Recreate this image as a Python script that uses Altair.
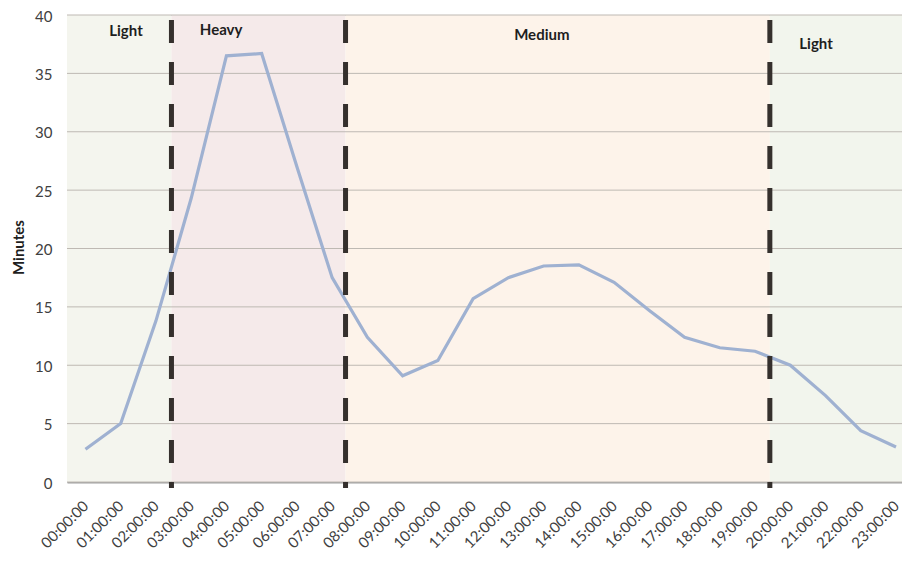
import altair as alt
import pandas as pd

# ---- data ----
hours = list(range(24))
minutes = [2.8, 5.0, 13.8, 24.3, 36.5, 36.7, 27.0, 17.5, 12.4, 9.1, 10.4, 15.7,
           17.5, 18.5, 18.6, 17.1, 14.7, 12.4, 11.5, 11.2, 10.0, 7.4, 4.4, 3.0]

x_domain = [-0.524, 23.17]         # visible hour range of the plot area
boundaries = [2.44, 7.38, 19.42]   # dashed separators (hours)
zone_names = ["Light", "Heavy", "Medium", "Light"]
zone_colors = ["#F4F5EE", "#F5EAEA", "#FDF3EA", "#F2F5ED"]
label_hours = [1.15, 3.85, 12.95, 20.73]
label_minutes = [38.6, 38.7, 38.3, 37.5]
y_ticks = [0, 5, 10, 15, 20, 25, 30, 35, 40]

W, H = 835, 467

df = pd.DataFrame({"hour": hours, "minutes": minutes})
edges = [x_domain[0]] + boundaries + [x_domain[1]]
zones = pd.DataFrame({
    "start": edges[:-1],
    "end": edges[1:],
    "lo": [0] * 4,
    "hi": [40] * 4,
    "color": zone_colors,
})
labels = pd.DataFrame({"name": zone_names, "hour": label_hours, "minutes": label_minutes})
grid = pd.DataFrame({"v": y_ticks})
seps = pd.DataFrame({"b": boundaries})

xscale = alt.Scale(domain=x_domain, nice=False, zero=False)
yscale = alt.Scale(domain=[0, 40], nice=False, zero=True)

x_axis = alt.Axis(
    values=hours,
    labelExpr="(datum.value < 10 ? '0' : '') + datum.value + ':00:00'",
    labelAngle=315, labelAlign="right", labelBaseline="middle",
    labelPadding=21, labelOffset=0, labelOverlap=False, labelFlush=False,
    labelFont="Lato", labelFontSize=15, labelColor="#404040",
    ticks=False, tickSize=0, grid=False, title=None,
    domainColor="#9E9E9E", domainWidth=2)
y_axis = alt.Axis(
    values=y_ticks, grid=False, ticks=False, tickSize=0,
    labelFont="Lato", labelFontSize=15, labelColor="#404040", labelPadding=15,
    labelOffset=1,
    domainColor="#C4C4C4", domainWidth=1,
    title="Minutes", titleFont="Lato", titleFontSize=15, titleFontWeight="bold",
    titleColor="#1E1E1E", titleAngle=270, titleX=-49, titleY=232,
    titleAlign="center", titleBaseline="middle")

rects = alt.Chart(zones).mark_rect().encode(
    x=alt.X("start:Q", scale=xscale, axis=x_axis),
    x2="end:Q",
    y=alt.Y("lo:Q", scale=yscale, axis=y_axis),
    y2="hi:Q",
    color=alt.Color("color:N", scale=None, legend=None),
)

gridlines = alt.Chart(grid).mark_rule(color="#BEB9B3", strokeWidth=1).encode(
    y=alt.Y("v:Q", scale=yscale, axis=y_axis)
)

line = alt.Chart(df).mark_line(color="#9FB1D1", strokeWidth=3.2).encode(
    x=alt.X("hour:Q", scale=xscale, axis=x_axis),
    y=alt.Y("minutes:Q", scale=yscale, axis=y_axis),
)

dashes = alt.Chart(seps).mark_rule(
    color="#35302D", strokeWidth=5, strokeDash=[23, 19], strokeDashOffset=37
).encode(
    x=alt.X("b:Q", scale=xscale, axis=x_axis),
    y=alt.value(0),
    y2=alt.value(H + 6),
)

texts = alt.Chart(labels).mark_text(
    font="Lato", fontSize=15, fontWeight="bold", color="#1E1E1E",
    align="center", baseline="middle"
).encode(
    x=alt.X("hour:Q", scale=xscale, axis=x_axis),
    y=alt.Y("minutes:Q", scale=yscale, axis=y_axis),
    text="name:N",
)

chart = alt.layer(rects, gridlines, line, dashes, texts).properties(
    width=W, height=H,
    autosize=alt.AutoSizeParams(type="none"),
    padding={"left": 59, "top": 7, "right": 0, "bottom": 71},
).configure_view(stroke="#B8B8B8", strokeWidth=1)

chart.save("out.html", embed_options={"renderer": "svg", "actions": False})
